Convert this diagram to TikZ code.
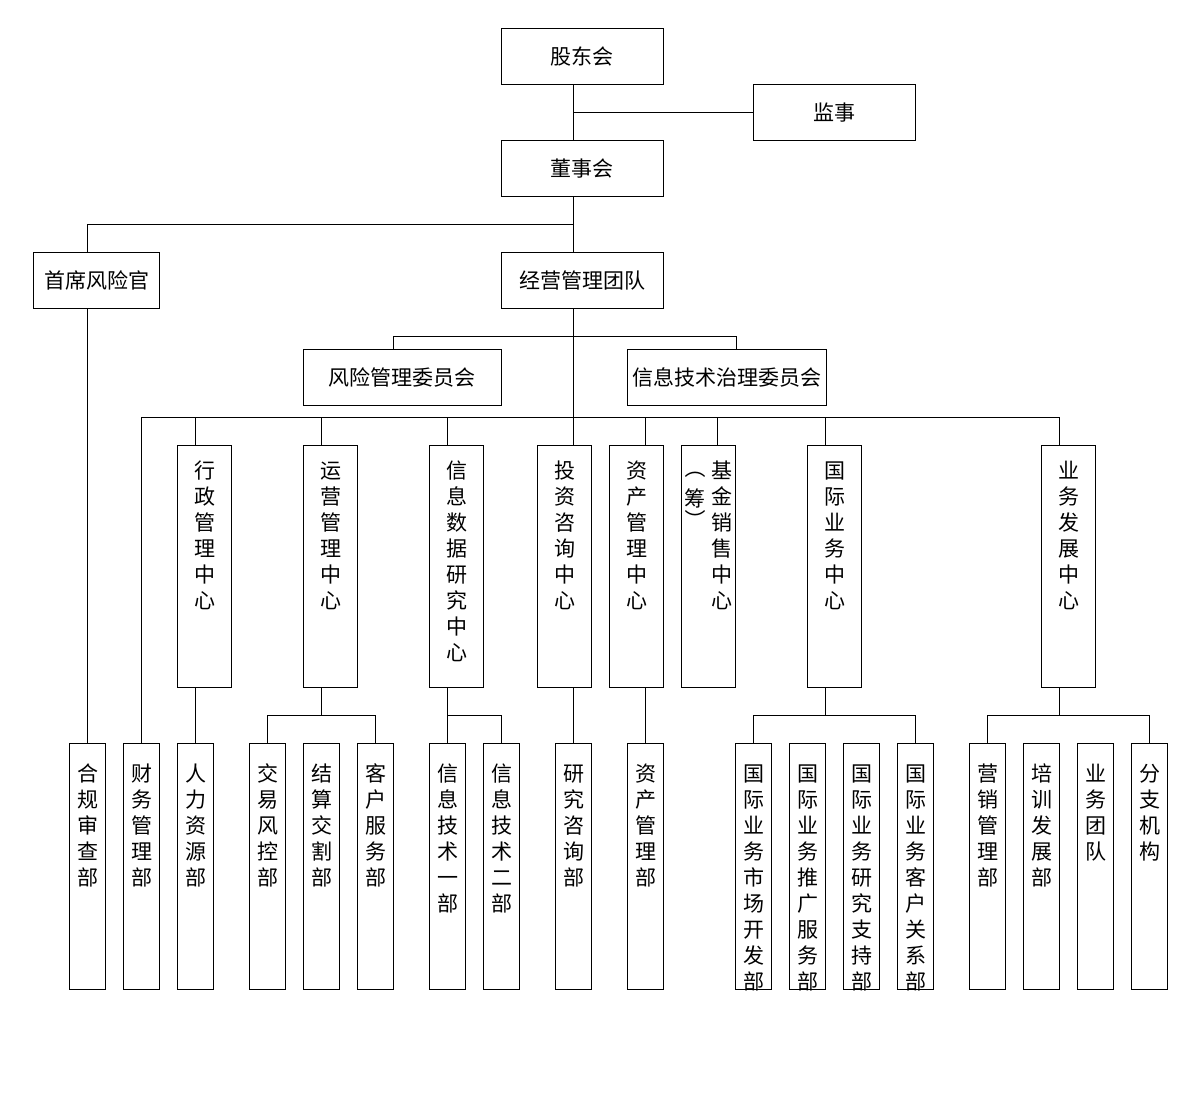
\documentclass[tikz,border=0pt]{standalone}
\usepackage{graphicx}
\usepackage{fontspec}
\newfontfamily\cjk{Noto Sans CJK SC}
\usetikzlibrary{positioning}
\newcommand{\vtxt}[1]{\begin{tabular}[t]{@{}c@{}}#1\end{tabular}}
\newcommand{\vparen}[1]{\rotatebox[origin=c]{-90}{#1}}
\tikzset{
  hbox/.style={draw, inner sep=0pt, minimum height=56pt},
  cbox/.style={draw, anchor=north, inner sep=0pt, minimum width=54pt, text height=33pt, text depth=209pt},
  dbox/.style={draw, anchor=north, inner sep=0pt, minimum width=36pt, text height=38pt, text depth=208pt}
}

\begin{document}
\begin{tikzpicture}[x=1pt, y=-1pt, line width=1pt, font=\cjk\fontsize{21}{26}\selectfont]
    \useasboundingbox (0,0) rectangle (1204,1102);

    \node[hbox, minimum width=162pt] (gdh)  at (582,56.3)   {股东会};
    \node[hbox, minimum width=162pt] (js)   at (834,112.3)  {监事};
    \node[hbox, minimum width=162pt] (dsh)  at (582,168.3)  {董事会};
    \node[hbox, minimum width=126pt] (sxfx) at (96.5,280.3) {首席风险官};
    \node[hbox, minimum width=162pt] (jytd) at (582,280.3)  {经营管理团队};
    \node[hbox, minimum width=198pt] (fxw)  at (402.4,377.3) {风险管理委员会};
    \node[hbox, minimum width=199pt] (xxw)  at (727.4,377.3) {信息技术治理委员会};

    \node[cbox] (xz)   at (204.5,445.3)  {\vtxt{行\\政\\管\\理\\中\\心}};
    \node[cbox] (yy)   at (330.5,445.3)  {\vtxt{运\\营\\管\\理\\中\\心}};
    \node[cbox] (xxsj) at (456.5,445.3)  {\vtxt{信\\息\\数\\据\\研\\究\\中\\心}};
    \node[cbox] (tz)   at (564.5,445.3)  {\vtxt{投\\资\\咨\\询\\中\\心}};
    \node[cbox] (zc)   at (636.5,445.3)  {\vtxt{资\\产\\管\\理\\中\\心}};
    \node[cbox] (jj)   at (708.5,445.3)  {\vtxt{\raisebox{3pt}{\vparen{（}}\\[2pt]筹\\[-5pt]\vparen{）}}\hspace{6pt}\vtxt{基\\金\\销\\售\\中\\心}};
    \node[cbox] (gj)   at (834.5,445.3)  {\vtxt{国\\际\\业\\务\\中\\心}};
    \node[cbox] (ywfz) at (1068.5,445.3) {\vtxt{业\\务\\发\\展\\中\\心}};

    \node[dbox] (hgsc)  at (87.5,743.3)   {\vtxt{合\\规\\审\\查\\部}};
    \node[dbox] (cwgl)  at (141.5,743.3)  {\vtxt{财\\务\\管\\理\\部}};
    \node[dbox] (rlzy)  at (195.5,743.3)  {\vtxt{人\\力\\资\\源\\部}};
    \node[dbox] (jyfk)  at (267.5,743.3)  {\vtxt{交\\易\\风\\控\\部}};
    \node[dbox] (jsjg)  at (321.5,743.3)  {\vtxt{结\\算\\交\\割\\部}};
    \node[dbox] (khfw)  at (375.5,743.3)  {\vtxt{客\\户\\服\\务\\部}};
    \node[dbox] (xxjs1) at (447.5,743.3)  {\vtxt{信\\息\\技\\术\\一\\部}};
    \node[dbox] (xxjs2) at (501.5,743.3)  {\vtxt{信\\息\\技\\术\\二\\部}};
    \node[dbox] (yjzx)  at (573.5,743.3)  {\vtxt{研\\究\\咨\\询\\部}};
    \node[dbox] (zcgl)  at (645.5,743.3)  {\vtxt{资\\产\\管\\理\\部}};
    \node[dbox] (gjsc)  at (753.5,743.3)  {\vtxt{国\\际\\业\\务\\市\\场\\开\\发\\部}};
    \node[dbox] (gjtg)  at (807.5,743.3)  {\vtxt{国\\际\\业\\务\\推\\广\\服\\务\\部}};
    \node[dbox] (gjyj)  at (861.5,743.3)  {\vtxt{国\\际\\业\\务\\研\\究\\支\\持\\部}};
    \node[dbox] (gjkh)  at (915.5,743.3)  {\vtxt{国\\际\\业\\务\\客\\户\\关\\系\\部}};
    \node[dbox] (yxgl)  at (987.5,743.3)  {\vtxt{营\\销\\管\\理\\部}};
    \node[dbox] (pxfz)  at (1041.5,743.3) {\vtxt{培\\训\\发\\展\\部}};
    \node[dbox] (ywtd)  at (1095.5,743.3) {\vtxt{业\\务\\团\\队}};
    \node[dbox] (fzjg)  at (1149.5,743.3) {\vtxt{分\\支\\机\\构}};

    \coordinate (t1) at (573.5,112.3);
    \coordinate (t2) at (573.5,224.3);
    \coordinate (t3) at (573.5,336.3);
    \coordinate (t4) at (573.5,417.3);
    \coordinate (sub) at (0,715.3);
    \coordinate (fxx) at ([xshift=-9pt]fxw.north);
    \coordinate (xxx) at ([xshift=9pt]xxw.north);
    \coordinate (jjx) at ([xshift=9pt]jj.north);
    \coordinate (gjx) at ([xshift=-9pt]gj.north);
    \coordinate (ywx) at ([xshift=-9pt]ywfz.north);

    \draw (gdh.south -| t1) -- (dsh.north -| t1);
    \draw (t1) -- (js.west);
    \draw (dsh.south -| t1) -- (jytd.north -| t1);
    \draw (t2) -| (hgsc |- sxfx.north);
    \draw (sxfx.south -| hgsc) -- (hgsc.north);
    \draw (jytd.south -| t1) -- (tz.north -| t1);
    \draw (fxx) |- (t3) -| (xxx);

    \draw (cwgl.north) |- (t4) -| (ywx);
    \draw (rlzy |- t4) -- (xz.north -| rlzy);
    \draw (jsjg |- t4) -- (yy.north -| jsjg);
    \draw (xxjs1 |- t4) -- (xxsj.north -| xxjs1);
    \draw (zcgl |- t4) -- (zc.north -| zcgl);
    \draw (jjx |- t4) -- (jjx);
    \draw (gjx |- t4) -- (gjx);

    \draw (xz.south -| rlzy) -- (rlzy.north);
    \draw (yy.south -| jsjg) -- (jsjg |- sub);
    \draw (jyfk.north) |- (jsjg |- sub) -| (khfw.north);
    \draw (xxsj.south -| xxjs1) -- (xxjs1.north);
    \draw (xxjs1 |- sub) -| (xxjs2.north);
    \draw (tz.south -| yjzx) -- (yjzx.north);
    \draw (zc.south -| zcgl) -- (zcgl.north);
    \draw (gj.south -| gjx) -- (gjx |- sub);
    \draw (gjsc.north) |- (gjkh |- sub) -- (gjkh.north);
    \draw (ywfz.south -| ywx) -- (ywx |- sub);
    \draw (yxgl.north) |- (fzjg |- sub) -- (fzjg.north);
\end{tikzpicture}
\end{document}
